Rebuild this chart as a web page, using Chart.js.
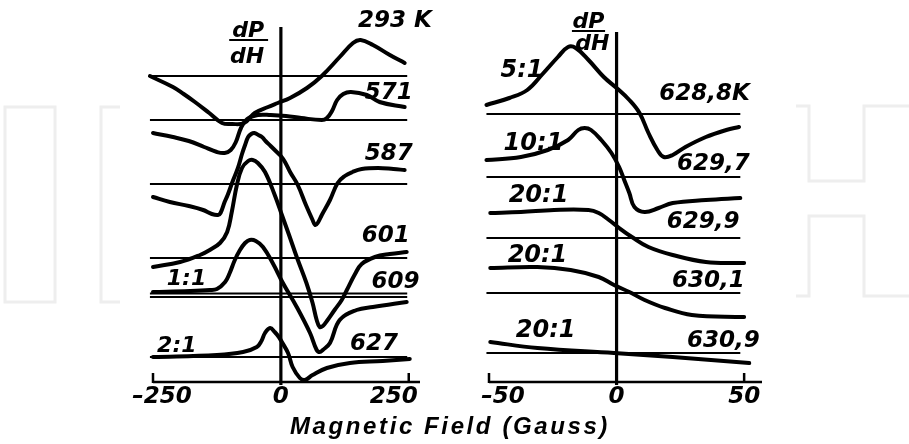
<!DOCTYPE html>
<html>
<head>
<meta charset="utf-8">
<script src="https://cdn.jsdelivr.net/npm/chart.js@4.4.1/dist/chart.umd.min.js"></script>
<style>
  html, body { margin: 0; padding: 0; background: #fff; }
  #wrap { position: relative; width: 909px; height: 444px; overflow: hidden; }
  #wrap canvas { position: absolute; top: 0; }
  #mark { position: absolute; left: 0; top: 0; }
  #caption {
    position: absolute; left: 0; width: 900px; top: 412px; text-align: center;
    font: italic bold 24px "Liberation Sans", Arial, sans-serif; letter-spacing: 2.6px; color: #000;
  }
</style>
</head>
<body>
<div id="wrap">
  <svg id="mark" width="909" height="444">
    <g fill="none" stroke="#eeeeee" stroke-width="3">
      <rect x="5" y="107" width="50" height="195"/>
      <polyline points="120,107 101,107 101,302 120,302"/>
      <polyline points="796,106 809,106 809,181 864,181 864,106 909,106"/>
      <polyline points="796,296 809,296 809,216 864,216 864,296 909,296"/>
    </g>
  </svg>
  <canvas id="left" width="455" height="444" style="left:0;width:455px;height:444px"></canvas>
  <canvas id="right" width="454" height="444" style="left:455px;width:454px;height:444px"></canvas>
  <div id="caption">Magnetic Field (Gauss)</div>
</div>
<script>
// ---- wide sweep, -250..250 G: field (G) and dP/dH measured from each trace's own baseline ----
const h293 = [-256, -211, -190, -168, -140, -115, -95, -72, -51, -25, -6, 18, 51, 80, 115, 141, 156, 180, 213, 242];
const s293 = [0, -11, -18, -26, -37, -47, -48, -47, -37, -31, -27, -22, -12, 0, 19, 33, 36, 31, 21, 13];

const h571 = [-250, -211, -180, -150, -125, -110, -98, -88, -78, -66, -45, -20, 10, 40, 80, 90, 100, 110, 122, 137, 168, 193, 242];
const s571 = [-13, -17, -21, -27, -32, -33, -30, -22, -8, 1, 5, 5, 4, 2, 0, 2, 9, 20, 26, 28, 25, 18, 13];

const h587 = [-250, -217, -180, -152, -135, -123, -118, -110, -104, -94, -84, -76, -70, -64, -58, -52, -44, -37, -30, -20, -12, 0, 8, 18, 33, 49, 62, 67, 72, 80, 96, 111, 125, 140, 158, 190, 220, 242];
const s587 = [-13, -18, -22, -26, -30, -31, -29, -18, -11, 3, 16, 30, 39, 47, 50, 51, 49, 47, 43, 38, 34, 28, 22, 12, -1, -21, -36, -41, -39, -31, -16, 1, 8, 12, 15, 16, 15, 14];

const h601 = [-250, -197, -158, -139, -119, -105, -96, -86, -76, -64, -55, -45, -31, -12, 2, 16, 31, 50, 62, 70, 76, 82, 90, 105, 119, 129, 145, 158, 184, 213, 246];
const s601 = [-9, -4, 3, 8, 15, 26, 46, 73, 90, 97, 98, 95, 86, 63, 43, 23, 1, -25, -45, -62, -69, -68, -63, -52, -42, -32, -16, -6, 1, 4, 6];

const h609 = [-250, -178, -139, -125, -109, -100, -90, -80, -70, -61, -49, -35, -16, 4, 31, 57, 70, 76, 82, 96, 115, 148, 180, 246];
const s609 = [5, 6, 7, 8, 15, 24, 37, 47, 54, 57, 56, 50, 34, 14, -10, -36, -53, -55, -53, -46, -23, -13, -10, -5];

const h627 = [-250, -125, -74, -47, -38, -31, -21, -12, -4, 2, 14, 23, 37, 47, 62, 90, 135, 199, 252];
const s627 = [0, 2, 5, 10, 16, 24, 29, 25, 20, 15, 4, -10, -21, -23, -18, -11, -6, -4, -2];

// ---- narrow sweep, -50..50 G ----
const h6288 = [-51, -42, -35, -29, -23, -19, -16, -11, -5, 0, 5, 9, 12.5, 16, 18.5, 22, 27, 35, 43, 48];
const s6288 = [9, 16, 24, 40, 57, 67, 66, 54, 37, 26, 14, 1, -19, -36, -43, -41, -33, -23, -16, -13];

const h6297 = [-51, -37.5, -27, -19, -15, -12.5, -10, -6, -2, 1, 3, 5, 7, 11, 16.5, 22, 35, 48.5];
const s6297 = [17, 20, 27, 37, 47, 49, 47, 37, 24, 10, -3, -16, -30, -35, -31, -26, -23, -21];

const h6299 = [-49.5, -37.5, -24.5, -11, -7, -3, 1, 6, 12.5, 22, 35, 50];
const s6299 = [25, 26, 28, 28, 25, 18, 10, 1, -9, -17, -24, -25];

const h6301 = [-49.5, -31, -18, -7, -1, 5, 11, 19, 29.5, 50];
const s6301 = [25, 26, 23, 16, 8, 1, -7, -15, -22, -24];

const h6309 = [-49.5, -31, -1, 22, 52];
const s6309 = [11, 5, 0, -4, -10];

// baseline heights above the field axis, top trace first
const baseL = [306, 262, 198, 124, 85, 25];
const baseR = [268, 205, 144, 89, 29];

const tempsL = ['293 K', '571', '587', '601', '609', '627'];
const gainsL = ['', '', '', '', '1:1', '2:1'];
const tempsR = ['628,8K', '629,7', '629,9', '630,1', '630,9'];
const gainsR = ['5:1', '10:1', '20:1', '20:1', '20:1'];

const ticksL = [-250, 0, 250];
const tickTextL = ['\u2013250', '0', '250'];
const ticksR = [-50, 0, 50];
const tickTextR = ['\u201350', '0', '50'];

const FONT = '"DejaVu Sans", "Liberation Sans", sans-serif';

function curve(h, s, off) {
  return {
    data: h.map((v, i) => ({ x: v, y: off + s[i] })),
    borderColor: '#000', borderWidth: 4, pointRadius: 0,
    tension: 0.4, borderCapStyle: 'round', borderJoinStyle: 'round',
    fill: false, clip: false
  };
}

function rule(x0, x1, y0, y1, w) {
  return {
    data: [{ x: x0, y: y0 }, { x: x1, y: y1 }],
    borderColor: '#000', borderWidth: w, pointRadius: 0, fill: false, clip: false
  };
}

// axis line, upward tick marks, tick labels and the text on each panel
const panelText = {
  id: 'panelText',
  afterDatasetsDraw(chart, args, o) {
    const { ctx, scales: { x, y } } = chart;
    const y0 = y.getPixelForValue(0);
    ctx.save();
    ctx.strokeStyle = '#000';
    ctx.fillStyle = '#000';
    ctx.lineWidth = 2.5;
    ctx.beginPath();
    ctx.moveTo(x.getPixelForValue(o.ticks[0]), y0);
    ctx.lineTo(x.getPixelForValue(x.max), y0);
    o.ticks.forEach(t => {
      if (t === 0) return;
      const px = x.getPixelForValue(t);
      ctx.moveTo(px, y0 + 1);
      ctx.lineTo(px, y0 - 9);
    });
    ctx.stroke();

    ctx.textBaseline = 'alphabetic';
    ctx.textAlign = 'center';
    ctx.font = 'italic bold 23px ' + FONT;
    o.ticks.forEach((t, i) => {
      ctx.fillText(o.tickText[i], x.getPixelForValue(t) + o.tickShift[i], y0 + 21);
    });

    // dP/dH fraction beside the zero line
    const f = o.frac;
    ctx.font = 'italic bold 22px ' + FONT;
    ctx.fillText('dP', x.getPixelForValue(f.x), y.getPixelForValue(f.top));
    ctx.fillText('dH', x.getPixelForValue(f.x + f.dx), y.getPixelForValue(f.bottom));
    ctx.lineWidth = 2;
    ctx.beginPath();
    ctx.moveTo(x.getPixelForValue(f.bar[0]), y.getPixelForValue(f.top - 3));
    ctx.lineTo(x.getPixelForValue(f.bar[1]), y.getPixelForValue(f.top - 3));
    ctx.stroke();

    o.labels.forEach(l => {
      ctx.font = 'italic bold ' + l.size + 'px ' + FONT;
      ctx.textAlign = l.align;
      ctx.fillText(l.text, x.getPixelForValue(l.x), y.getPixelForValue(o.base[l.trace] + l.dy));
    });
    ctx.restore();
  }
};

function panel(id, cfg) {
  return new Chart(document.getElementById(id), {
    type: 'line',
    data: { datasets: cfg.datasets },
    options: {
      responsive: false,
      animation: false,
      devicePixelRatio: 1,
      layout: { padding: cfg.padding },
      scales: {
        x: { type: 'linear', min: cfg.xmin, max: cfg.xmax, display: false },
        y: { type: 'linear', min: -10, max: 370, display: false }
      },
      plugins: { legend: { display: false }, tooltip: { enabled: false }, panelText: cfg.text }
    },
    plugins: [panelText]
  });
}

const leftSets = [
  ...baseL.map(b => rule(-256, 247, b, b, 2.2)),
  rule(-256, 247, baseL[4] + 3.5, baseL[4] + 3.5, 2),
  rule(0, 0, -3, 355, 3.2),
  curve(h293, s293, baseL[0]),
  curve(h571, s571, baseL[1]),
  curve(h587, s587, baseL[2]),
  curve(h601, s601, baseL[3]),
  curve(h609, s609, baseL[4]),
  curve(h627, s627, baseL[5])
];

const rightSets = [
  ...baseR.map(b => rule(-51, 48.5, b, b, 2.2)),
  rule(0, 0, -3, 350, 3.2),
  curve(h6288, s6288, baseR[0]),
  curve(h6297, s6297, baseR[1]),
  curve(h6299, s6299, baseR[2]),
  curve(h6301, s6301, baseR[3]),
  curve(h6309, s6309, baseR[4])
];

const leftLabels = [
  { text: tempsL[0], trace: 0, x: 295, dy: 49, align: 'right', size: 23 },
  { text: tempsL[1], trace: 1, x: 258, dy: 21, align: 'right', size: 23 },
  { text: tempsL[2], trace: 2, x: 258, dy: 24, align: 'right', size: 23 },
  { text: tempsL[3], trace: 3, x: 252, dy: 16, align: 'right', size: 23 },
  { text: tempsL[4], trace: 4, x: 271, dy: 9, align: 'right', size: 23 },
  { text: tempsL[5], trace: 5, x: 229, dy: 7, align: 'right', size: 23 },
  { text: gainsL[4], trace: 4, x: -223, dy: 12, align: 'left', size: 22 },
  { text: gainsL[5], trace: 5, x: -242, dy: 5, align: 'left', size: 22 }
];

const rightLabels = [];
tempsR.forEach((t, i) => {
  const tx = [52.2, 52.2, 48.2, 50.2, 56.1][i];
  const ty = [14, 7, 10, 6, 6][i];
  const gx = [-45.5, -44.3, -42.3, -42.7, -39.5][i];
  const gy = [37, 27, 36, 31, 16][i];
  rightLabels.push({ text: t, trace: i, x: tx, dy: ty, align: 'right', size: 23 });
  rightLabels.push({ text: gainsR[i], trace: i, x: gx, dy: gy, align: 'left', size: 24 });
});

panel('left', {
  datasets: leftSets,
  padding: { left: 153, right: 35, top: 12, bottom: 52 },
  xmin: -250, xmax: 272,
  text: {
    ticks: ticksL, tickText: tickTextL, tickShift: [9, 0, -15],
    frac: { x: -64, dx: -2, top: 345, bottom: 319, bar: [-101, -25] },
    base: baseL, labels: leftLabels
  }
});

panel('right', {
  datasets: rightSets,
  padding: { left: 34, right: 147, top: 12, bottom: 52 },
  xmin: -50, xmax: 57,
  text: {
    ticks: ticksR, tickText: tickTextR, tickShift: [14, 0, 0],
    frac: { x: -11, dx: 1.5, top: 354, bottom: 332, bar: [-17.5, -4.5] },
    base: baseR, labels: rightLabels
  }
});
</script>
</body>
</html>
